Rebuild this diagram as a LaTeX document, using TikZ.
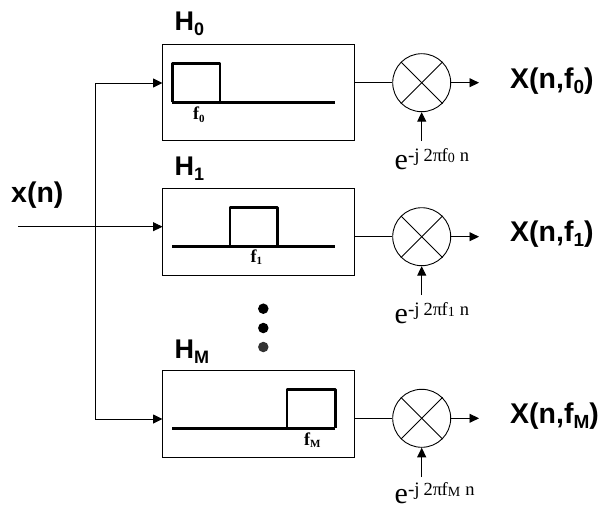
\documentclass[tikz,border=0pt]{standalone}
\usepackage{fontspec}
\setmainfont{Liberation Sans}
\newfontfamily\timesfont{Liberation Serif}
\usetikzlibrary{arrows.meta}
\newcommand{\bigsub}[2]{{\fontsize{27}{27}\selectfont\bfseries #1\raisebox{-5pt}{\fontsize{18}{18}\selectfont #2}}}
\newcommand{\outsub}[1]{{\fontsize{28.5}{28.5}\selectfont\bfseries X(n,f\raisebox{-5pt}{\fontsize{19}{19}\selectfont #1})}}
\newcommand{\expsub}[1]{{\timesfont\fontsize{30}{30}\selectfont e\raisebox{8pt}{\fontsize{19}{19}\selectfont -j\hspace{4pt}\fontsize{18.5}{18.5}\selectfont 2π\hspace{-0.5pt}f\raisebox{-1pt}{\fontsize{14}{14}\selectfont #1}\hspace{5pt}n}}}
\newcommand{\freqsub}[2]{{\timesfont\bfseries\fontsize{18}{18}\selectfont #1\raisebox{-2.5pt}{\fontsize{11}{11}\selectfont #2}}}
\tikzset{
  filterbox/.style={draw,line width=0.9pt,minimum width=192pt,minimum height=#1,inner sep=0pt},
  mixer/.style={draw,line width=0.9pt,circle,minimum size=58pt,inner sep=0pt},
  response/.style={line width=2.6pt,line join=round},
  dot/.style={circle,fill=#1,minimum size=10.5pt,inner sep=0pt},
  sig/.style={line width=0.9pt,-{Triangle[length=9.5pt,width=9pt]}},
  wire/.style={line width=0.9pt},
  txt/.style={anchor=base west,inner sep=0pt}
}
\begin{document}
\begin{tikzpicture}[x=1pt,y=-1pt]
\useasboundingbox (0,0) rectangle (599,508);
% filters
\draw (258.6,92.6) node[filterbox=96pt]  (box0) {};
\draw (258.6,232)  node[filterbox=86.3pt] (box1) {};
\draw (258.6,414)  node[filterbox=86.3pt] (boxM) {};
% mixers
\draw (421.7,82.7)  node[mixer] (mix0) {};
\draw (421.7,236.7) node[mixer] (mix1) {};
\draw (421.7,418.3) node[mixer] (mixM) {};
% crosses
\foreach \m in {mix0,mix1,mixM} {
  \draw[wire] (\m.45) -- (\m.225);
  \draw[wire] (\m.135) -- (\m.315);
}
% frequency responses
\draw[response] (172.3,102.3) -- (172.3,63.3) -- (220,63.3) -- (220,102.3);
\draw[response] (172.3,102.3) -- (335,102.3);
\draw[response] (230,246.3) -- (230,207.7) -- (277.7,207.7) -- (277.7,246.3);
\draw[response] (172.3,246.3) -- (335,246.3);
\draw[response] (287,428.3) -- (287,389.7) -- (335.2,389.7) -- (335.2,428.3);
\draw[response] (172.3,428.3) -- (335.2,428.3);
% dots
\draw (263.3,308.7) node[dot=black] (dot0) {};
\draw (263.3,328)   node[dot=black] (dot1) {};
\draw (263.3,347)   node[dot=black!80] (dot2) {};
% labels
\draw (174.5,31)  node[txt] (h0) {\bigsub{H}{0}};
\draw (174.5,175) node[txt] (h1) {\bigsub{H}{1}};
\draw (174.5,358) node[txt] (hM) {\bigsub{H}{M}};
\draw (11,202)    node[txt] (xn) {\fontsize{28.5}{28.5}\selectfont\bfseries x(n)};
\draw (510,88.3)  node[txt] (out0) {\outsub{0}};
\draw (510,241.7) node[txt] (out1) {\outsub{1}};
\draw (510,423.3) node[txt] (outM) {\outsub{M}};
\draw (193,120)   node[txt] (f0) {\freqsub{f}{0}};
\draw (250.5,262) node[txt] (f1) {\freqsub{f}{1}};
\draw (304,445)   node[txt] (fM) {\freqsub{f}{M}};
\draw (394.5,169.5) node[txt] (e0) {\expsub{0}};
\draw (394.5,323)   node[txt] (e1) {\expsub{1}};
\draw (394.5,503)   node[txt] (eM) {\expsub{M}};
% free ends
\coordinate (in) at (18,226.7);
\coordinate (fork) at (95,226.7);
\coordinate (in0) at (162.5,83);
\coordinate (in1) at (162.5,226.7);
\coordinate (inM) at (162.5,419);
\coordinate (end0) at (479,82.7);
\coordinate (end1) at (479,236.7);
\coordinate (endM) at (479,418.3);
\coordinate (lo0) at (421.7,141);
\coordinate (lo1) at (421.7,295);
\coordinate (loM) at (421.7,477);
% connectors
\draw[sig] (in) -- (in1);
\draw[sig] (fork) |- (in0);
\draw[sig] (fork) |- (inM);
\draw[wire] (box0.east |- mix0) -- (mix0);
\draw[wire] (box1.east |- mix1) -- (mix1);
\draw[wire] (boxM.east |- mixM) -- (mixM);
\draw[sig] (mix0) -- (end0);
\draw[sig] (mix1) -- (end1);
\draw[sig] (mixM) -- (endM);
\draw[sig] (lo0) -- (mix0);
\draw[sig] (lo1) -- (mix1);
\draw[sig] (loM) -- (mixM);
\end{tikzpicture}
\end{document}
